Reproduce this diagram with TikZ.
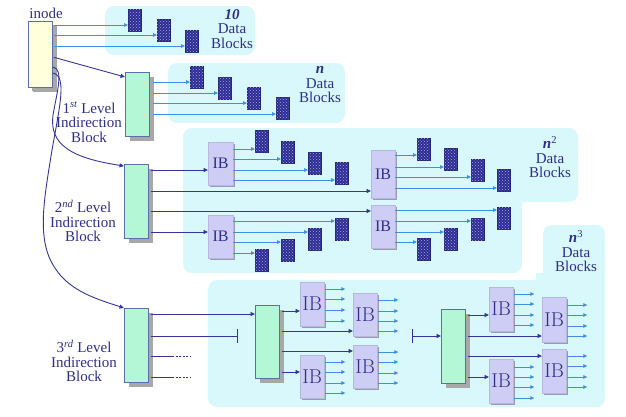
\documentclass[tikz,border=0pt]{standalone}
\usepackage{fontspec}
\newfontfamily\tnr{Liberation Serif}
\usetikzlibrary{arrows.meta,shadows,patterns,calc}
\definecolor{cyanbg}{HTML}{D9F8FB}
\definecolor{txt}{HTML}{2E2E8C}
\definecolor{dkline}{HTML}{34349A}
\definecolor{ltline}{HTML}{3D8FE8}
\definecolor{yellowf}{HTML}{FFFFDC}
\definecolor{greenf}{HTML}{B4F7D6}
\definecolor{boxdraw}{HTML}{5A6FA8}
\definecolor{ibf}{HTML}{CDCDF5}
\definecolor{dblue}{HTML}{2C2C92}
\definecolor{speck}{HTML}{A8A8E8}
\definecolor{shgray}{HTML}{A8A8A8}
\tikzset{
  region/.style={fill=cyanbg, rounded corners=9pt, draw=none},
  datab/.style={fill=dblue, draw=dblue!80!black, line width=0.3pt, minimum width=13pt, minimum height=22pt, inner sep=0pt, anchor=north west,
    postaction={pattern=crosshatch dots, pattern color=speck}},
  ptrbox/.style={draw=boxdraw, line width=0.8pt, inner sep=0pt, anchor=north west, minimum width=24pt,
    drop shadow={shadow xshift=5pt, shadow yshift=-5pt, fill=shgray, opacity=1}},
  ibbox/.style={fill=ibf, draw=ibf!90!black, line width=0.3pt, inner sep=0pt, anchor=north west, text=txt,
    drop shadow={shadow xshift=1.5pt, shadow yshift=-1.5pt, fill=ibf!75!black, opacity=1}},
  ibsmall/.style={ibbox, font=\tnr\fontsize{16}{16}\selectfont},
  ibbig/.style={ibbox, font=\fontsize{20}{20}\selectfont},
  lt/.style={ltline, line width=0.8pt, -{Triangle[length=4pt,width=3.6pt]}},
  dk/.style={dkline, line width=0.9pt, -{Triangle[length=4.5pt,width=4pt]}},
  lbl/.style={text=txt, align=center, font=\tnr\fontsize{15}{14.5}\selectfont, inner sep=0pt},
}
\begin{document}
\begin{tikzpicture}[x=1pt,y=-1pt]
\useasboundingbox (0,0) rectangle (626,416);
% regions
\fill[region] (105,6) rectangle (255,55);
\fill[region] (168,63) rectangle (345,123);
\fill[region] (183,128) rectangle (578,202);
\fill[region] (183,128) rectangle (522,273);
\fill[region] (208,280) rectangle (605,407);
\fill[region] (543,225) rectangle (605,300);
\fill[cyanbg] (515,195) rectangle (522,210);
\fill[cyanbg] (536,273) rectangle (543,287);

% labels
\node[lbl] (inl) at (46,13) {inode};
\node[lbl] (t10) at (232,29) {\textbf{\textit{10}}\\Data\\Blocks};
\node[lbl] (tn) at (320,85) {\textbf{\textit{n}}\\Data\\Blocks};
\node[lbl] (tn2) at (550,157) {\textbf{\textit{n}}\textsuperscript{2}\\Data\\Blocks};
\node[lbl] (tn3) at (576,251) {\textbf{\textit{n}}\textsuperscript{3}\\Data\\Blocks};
\node[lbl] (l1) at (89,122) {1\textsuperscript{\itshape st} Level\\Indirection\\Block};
\node[lbl] (l2) at (83,221) {2\textsuperscript{\itshape nd} Level\\Indirection\\Block};
\node[lbl] (l3) at (84,361) {3\textsuperscript{\itshape rd} Level\\Indirection\\Block};

% pointer blocks
\node[ptrbox, fill=yellowf, minimum height=66pt, drop shadow={shadow xshift=4pt, shadow yshift=-4pt, fill=shgray, opacity=1}] (inode) at (28,21) {};
\node[ptrbox, fill=greenf, minimum height=64pt] (lvl1) at (125,72) {};
\node[ptrbox, fill=greenf, minimum height=74pt] (lvl2) at (124,164) {};
\node[ptrbox, fill=greenf, minimum height=74pt] (lvl3) at (124,308) {};
\node[ptrbox, fill=greenf, minimum height=73pt] (m1) at (255,305) {};
\node[ptrbox, fill=greenf, minimum height=74pt] (m2) at (441,309) {};

% data blocks, direct
\node[datab] (a1) at (128,9) {};
\node[datab] (a2) at (157,19) {};
\node[datab] (a3) at (185,30) {};
% data blocks, 1st level
\node[datab] (b1) at (190,66) {};
\node[datab] (b2) at (218,77) {};
\node[datab] (b3) at (247,87) {};
\node[datab] (b4) at (276,97) {};
% IBs 2nd level
\node[ibsmall, minimum width=25pt, minimum height=43pt] (ib1) at (208,142) {IB};
\node[ibsmall, minimum width=24pt, minimum height=48pt] (ib2) at (371,150) {IB};
\node[ibsmall, minimum width=24pt, minimum height=43pt] (ib3) at (371,205) {IB};
\node[ibsmall, minimum width=25pt, minimum height=43pt] (ib4) at (208,215) {IB};
% data blocks, 2nd level
\node[datab] (c1) at (255,130) {};
\node[datab] (c2) at (281,141) {};
\node[datab] (c3) at (308,152) {};
\node[datab] (c4) at (335,162) {};
\node[datab] (e1) at (335,218) {};
\node[datab] (e2) at (308,228) {};
\node[datab] (e3) at (281,239) {};
\node[datab] (e4) at (255,249) {};
\node[datab] (f1) at (417,138) {};
\node[datab] (f2) at (444,148) {};
\node[datab] (f3) at (471,159) {};
\node[datab] (f4) at (497,169) {};
\node[datab] (g1) at (497,207) {};
\node[datab] (g2) at (471,218) {};
\node[datab] (g3) at (444,228) {};
\node[datab] (g4) at (417,238) {};
% IBs 3rd level
\node[ibbig, minimum width=24pt, minimum height=44pt] (p1) at (300,282) {IB};
\node[ibbig, minimum width=24pt, minimum height=43pt] (p2) at (353,293) {IB};
\node[ibbig, minimum width=24pt, minimum height=43pt] (p3) at (353,345) {IB};
\node[ibbig, minimum width=24pt, minimum height=43pt] (p4) at (300,355) {IB};
\node[ibbig, minimum width=24pt, minimum height=44pt] (q1) at (489,287) {IB};
\node[ibbig, minimum width=24pt, minimum height=45pt] (q2) at (542,297) {IB};
\node[ibbig, minimum width=24pt, minimum height=44pt] (q3) at (542,349) {IB};
\node[ibbig, minimum width=24pt, minimum height=44pt] (q4) at (489,359) {IB};

% inode connectors
\foreach \y/\t in {25/a1,35/a2,46/a3}
  \draw[lt, shorten <=1pt] (inode.east |- 0,\y) -- (\t.west |- 0,\y);
\draw[dk, shorten <=1pt] (inode.east |- 0,57) -- (lvl1.west |- 0,77);
\draw[dk] (53,67) .. controls (64,69) and (57,92) .. (53,115) .. controls (49,145) and (72,158) .. (lvl2.west |- 0,166);
\draw[dk] (53,73) .. controls (67,76) and (60,105) .. (52,150) .. controls (44,200) and (36,240) .. (55,268) .. controls (70,292) and (100,300) .. (lvl3.west |- 0,308);

% 1st level
\foreach \y/\t in {82/b1,93/b2,103/b3,114/b4}
  \draw[lt, shorten <=3pt] (lvl1.east |- 0,\y) -- (\t.west |- 0,\y);
% 2nd level
\foreach \y/\t in {170/ib1,191/ib2,211/ib3,232/ib4}
  \draw[dk, shorten <=2pt] (lvl2.east |- 0,\y) -- (\t.west |- 0,\y);
\foreach \y/\t in {149/c1,159/c2,170/c3,180/c4}
  \draw[lt] (ib1.east |- 0,\y) -- (\t.west |- 0,\y);
\foreach \y/\t in {221/e1,232/e2,242/e3,253/e4}
  \draw[lt] (ib4.east |- 0,\y) -- (\t.west |- 0,\y);
\foreach \y/\t in {155/f1,167/f2,177/f3,188/f4}
  \draw[lt] (ib2.east |- 0,\y) -- (\t.west |- 0,\y);
\foreach \y/\t in {210/g1,221/g2,232/g3,242/g4}
  \draw[lt] (ib3.east |- 0,\y) -- (\t.west |- 0,\y);

% 3rd level
\draw[dk, shorten <=2pt] (lvl3.east |- 0,314) -- (m1.west |- 0,314);
\coordinate (bar1) at (237,336);
\draw[dkline, line width=0.9pt, shorten <=2pt] (lvl3.east |- 0,336) -- (bar1);
\draw[dkline, line width=0.9pt] ($(bar1)+(0,-7)$) -- ($(bar1)+(0,7)$);
\foreach \y in {356,377}{
  \draw[dkline, line width=0.9pt, shorten <=2pt] (lvl3.east |- 0,\y) -- (172,\y) coordinate (u\y);
  \draw[dkline, line width=0.9pt, dash pattern=on 2pt off 1.5pt] (u\y) -- ++(18,0);
}
\foreach \y/\t in {311/p1,331/p2,351/p3,372/p4}
  \draw[dk, shorten <=2pt] (m1.east |- 0,\y) -- (\t.west |- 0,\y);
\foreach \t/\ys in {p1/{289,299,310,321},p2/{300,311,321,331},p3/{352,362,373,383},p4/{362,372,383,393},
                    q1/{294,304,315,325},q2/{305,315,326,336},q3/{356,366,377,387},q4/{367,377,387,398}}
  \foreach \y in \ys
    \draw[lt, shorten <=1pt] (\t.east |- 0,\y) -- ++(21,0);
\coordinate (bar2) at (412,336);
\draw[dkline, line width=0.9pt] ($(bar2)+(0,-7)$) -- ($(bar2)+(0,7)$);
\draw[dk] (bar2) -- (m2.west |- bar2);
\foreach \y/\t in {315/q1,336/q2,356/q3,377/q4}
  \draw[dk, shorten <=2pt] (m2.east |- 0,\y) -- (\t.west |- 0,\y);
\end{tikzpicture}
\end{document}
